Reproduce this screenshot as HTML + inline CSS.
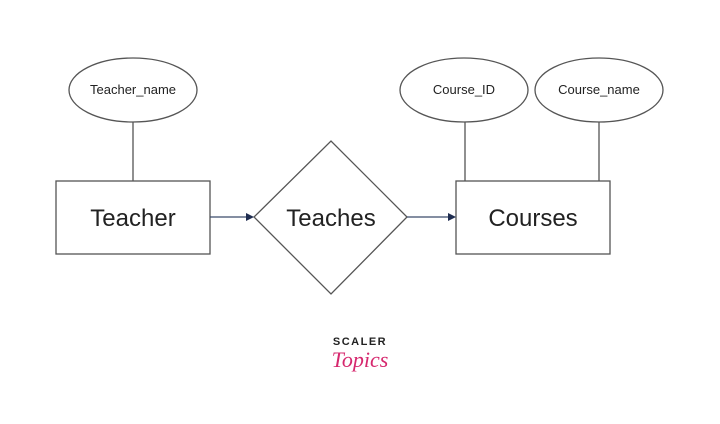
<!DOCTYPE html>
<html><head><style>body{margin:0;background:#fff}svg{display:block}</style></head><body>
<svg width="720" height="424" viewBox="0 0 720 424" xmlns="http://www.w3.org/2000/svg" font-family="Liberation Sans, DejaVu Sans, sans-serif">
<rect width="720" height="424" fill="#fff"/>
<g fill="#fff" stroke="#555" stroke-width="1.3">
<ellipse cx="133" cy="90" rx="64" ry="32"/>
<ellipse cx="464" cy="90" rx="64" ry="32"/>
<ellipse cx="599" cy="90" rx="64" ry="32"/>
<line x1="133" y1="122" x2="133" y2="181"/>
<line x1="465" y1="122" x2="465" y2="181"/>
<line x1="599" y1="122" x2="599" y2="181"/>
<rect x="56" y="181" width="154" height="73"/>
<rect x="456" y="181" width="154" height="73"/>
<polygon points="254,217 331,141 407,217 331,294"/>
</g>
<g stroke="#3a4a6a" stroke-width="1.3">
<line x1="210" y1="217" x2="248" y2="217"/>
<line x1="407" y1="217" x2="450" y2="217"/>
</g>
<polygon points="246,213 254,217 246,221" fill="#1f2d50"/>
<polygon points="448,213 456,217 448,221" fill="#1f2d50"/>
<g fill="#222" text-anchor="middle">
<text x="133" y="94" font-size="13">Teacher_name</text>
<text x="464" y="94" font-size="13">Course_ID</text>
<text x="599" y="94" font-size="13">Course_name</text>
<text x="133" y="226" font-size="24">Teacher</text>
<text x="331" y="226" font-size="24">Teaches</text>
<text x="533" y="226" font-size="24">Courses</text>
<text x="360" y="345" font-size="11" font-weight="bold" letter-spacing="1.5">SCALER</text>
<text x="360" y="367" font-size="22" font-style="italic" font-family="Liberation Serif, serif" fill="#d6286e">Topics</text>
</g>
</svg>
</body></html>
